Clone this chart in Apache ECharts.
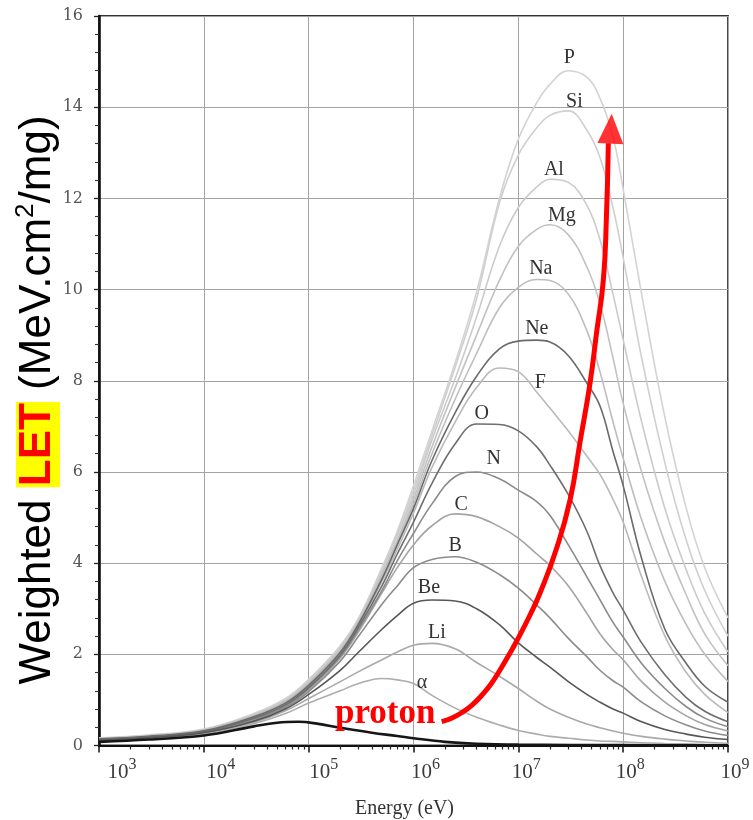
<!DOCTYPE html>
<html>
<head>
<meta charset="utf-8">
<script src="https://cdn.jsdelivr.net/npm/echarts@6/dist/echarts.min.js"></script>
<style>
  html, body { margin: 0; padding: 0; background: #ffffff; }
  #chart { width: 753px; height: 820px; }
</style>
</head>
<body>
<div id="chart"></div>
<script>
// Energy grid shared by the ion curves (eV)
const energyGrid = [1e3, 3e3, 1e4, 3e4, 6e4, 1e5, 2e5, 3e5, 5e5, 7e5, 1e6, 1.5e6, 2.5e6, 4e6, 6.6e6,
                    1e7, 1.5e7, 2e7, 3e7, 4.5e7, 6e7, 8e7, 1e8, 1.5e8, 2.5e8, 4e8, 6e8, 1e9];

// Weighted LET (MeV.cm2/mg) of each ion on energyGrid
const letAlpha = [0.10, 0.15, 0.25, 0.48, 0.70, 0.93, 1.20, 1.36, 1.47, 1.44, 1.36, 1.10, 0.82, 0.62, 0.45,
                  0.33, 0.25, 0.20, 0.16, 0.12, 0.10, 0.09, 0.08, 0.06, 0.045, 0.035, 0.025, 0.02];
const letLi    = [0.11, 0.16, 0.27, 0.51, 0.76, 1.03, 1.40, 1.62, 1.88, 2.05, 2.20, 2.24, 2.12, 1.82, 1.52,
                  1.25, 0.97, 0.80, 0.62, 0.47, 0.39, 0.32, 0.27, 0.20, 0.14, 0.10, 0.07, 0.05];
const letBe    = [0.11, 0.17, 0.28, 0.53, 0.80, 1.12, 1.65, 2.05, 2.55, 2.85, 3.12, 3.19, 3.17, 3.00, 2.65,
                  2.25, 1.93, 1.72, 1.40, 1.12, 0.95, 0.80, 0.71, 0.52, 0.35, 0.25, 0.18, 0.13];
const letB     = [0.12, 0.18, 0.29, 0.55, 0.83, 1.18, 1.85, 2.40, 3.10, 3.50, 3.90, 4.08, 4.14, 4.02, 3.75,
                  3.45, 3.08, 2.80, 2.35, 1.95, 1.65, 1.42, 1.28, 0.95, 0.65, 0.45, 0.32, 0.22];
const letC     = [0.12, 0.18, 0.30, 0.57, 0.85, 1.22, 1.92, 2.50, 3.35, 3.90, 4.40, 4.82, 5.08, 5.02, 4.80,
                  4.55, 4.20, 3.95, 3.50, 2.90, 2.45, 2.10, 1.88, 1.40, 0.95, 0.65, 0.46, 0.32];
const letN     = [0.13, 0.19, 0.30, 0.58, 0.87, 1.25, 1.95, 2.55, 3.40, 4.05, 4.65, 5.30, 5.90, 6.00, 5.85,
                  5.60, 5.35, 5.05, 4.40, 3.70, 3.20, 2.70, 2.38, 1.80, 1.25, 0.85, 0.60, 0.41];
const letO     = [0.13, 0.19, 0.31, 0.60, 0.89, 1.27, 1.98, 2.60, 3.50, 4.20, 4.90, 5.75, 6.62, 7.05, 7.04,
                  6.90, 6.55, 6.15, 5.50, 4.70, 3.95, 3.35, 2.97, 2.25, 1.55, 1.05, 0.75, 0.52];
const letF     = [0.14, 0.20, 0.32, 0.61, 0.91, 1.30, 2.01, 2.64, 3.60, 4.30, 5.10, 6.10, 7.10, 7.85, 8.28,
                  8.20, 7.75, 7.40, 6.90, 6.35, 5.95, 5.40, 4.90, 3.70, 2.40, 1.60, 1.12, 0.72];
const letNe    = [0.14, 0.20, 0.32, 0.63, 0.93, 1.32, 2.04, 2.67, 3.65, 4.40, 5.20, 6.25, 7.30, 8.10, 8.70,
                  8.87, 8.89, 8.85, 8.55, 7.95, 7.45, 6.45, 5.70, 4.10, 2.55, 1.80, 1.30, 0.95];
const letNa    = [0.15, 0.21, 0.33, 0.64, 0.95, 1.35, 2.07, 2.70, 3.70, 4.45, 5.30, 6.40, 7.60, 8.60, 9.60,
                  10.05, 10.22, 10.20, 9.90, 9.10, 8.20, 7.10, 6.30, 4.95, 3.60, 2.65, 2.00, 1.40];
const letMg    = [0.15, 0.21, 0.34, 0.66, 0.97, 1.37, 2.10, 2.72, 3.75, 4.50, 5.40, 6.55, 7.85, 9.00, 10.20,
                  10.95, 11.32, 11.42, 11.20, 10.50, 9.70, 8.50, 7.50, 6.00, 4.45, 3.30, 2.45, 1.75];
const letAl    = [0.16, 0.22, 0.34, 0.67, 0.99, 1.40, 2.13, 2.75, 3.80, 4.60, 5.50, 6.70, 8.05, 9.40, 10.95,
                  11.80, 12.25, 12.42, 12.35, 11.85, 11.10, 9.90, 8.90, 7.10, 5.20, 3.85, 2.90, 2.05];
const letSi    = [0.16, 0.22, 0.35, 0.69, 1.01, 1.42, 2.16, 2.78, 3.85, 4.65, 5.60, 6.80, 8.30, 9.80, 11.90,
                  12.95, 13.55, 13.82, 13.92, 13.50, 12.90, 11.80, 10.70, 8.50, 6.20, 4.50, 3.40, 2.40];
const letP     = [0.17, 0.23, 0.36, 0.70, 1.03, 1.45, 2.19, 2.80, 3.90, 4.70, 5.70, 6.90, 8.40, 9.95, 12.00,
                  13.30, 14.10, 14.50, 14.80, 14.66, 14.20, 13.35, 12.20, 9.90, 7.20, 5.20, 3.90, 2.80];

// Proton curve
const protonEnergy = [1e3, 3e3, 1e4, 3e4, 5e4, 8e4, 1.2e5, 2e5, 4e5, 7e5, 1e6, 2e6, 4e6, 1e7, 1e8, 1e9];
const protonLET    = [0.08, 0.13, 0.22, 0.42, 0.50, 0.52, 0.48, 0.39, 0.28, 0.21, 0.16, 0.08, 0.04, 0.02, 0.008, 0.004];

// Ion names, drawn from lightest grey (back) to darkest (front)
const ionNames = ['P', 'Si', 'Al', 'Mg', 'Na', 'F', 'C', 'Li', 'α', 'N', 'B', 'O', 'Ne', 'Be'];
const ionLET = {
  'α': letAlpha, 'Li': letLi, 'Be': letBe, 'B': letB, 'C': letC, 'N': letN, 'O': letO,
  'F': letF, 'Ne': letNe, 'Na': letNa, 'Mg': letMg, 'Al': letAl, 'Si': letSi, 'P': letP
};

// Highlight arrow drawn over the curves
const arrowEnergy = [1.858e6, 2.330e6, 2.903e6, 3.616e6, 4.504e6, 5.488e6, 6.688e6, 8.063e6, 9.652e6,
                     1.293e7, 1.610e7, 2.288e7, 3.112e7, 3.877e7, 4.830e7, 5.569e7, 6.467e7, 6.908e7, 7.218e7];
const arrowLET    = [0.522, 0.603, 0.724, 0.888, 1.107, 1.348, 1.655, 1.973, 2.291,
                     2.862, 3.344, 4.286, 5.382, 6.654, 7.948, 9.044, 10.206, 11.522, 13.21];
const arrowHead   = [[7.66e7, 13.53]];

// Decade exponents used for the energy tick labels
const xTickExponents = [3, 4, 5, 6, 7, 8, 9];

// Styling
const ionColor = {
  'α': '#adadad', 'Li': '#a9a9a9', 'Be': '#575757', 'B': '#8c8c8c', 'C': '#a4a4a4', 'N': '#8a8a8a',
  'O': '#6e6e6e', 'F': '#bababa', 'Ne': '#6a6a6a', 'Na': '#bdbdbd', 'Mg': '#c2c2c2', 'Al': '#cbcbcb',
  'Si': '#cfcfcf', 'P': '#d3d3d3'
};
const ionLabelOffset = {
  'P': [1, -13], 'Si': [6, -9], 'Al': [4, -9], 'Mg': [12, -9], 'Na': [4, -11], 'Ne': [0, -11],
  'F': [41, 15], 'O': [5, -10], 'N': [17, -13], 'C': [6, -9], 'B': [0, -11], 'Be': [-3, -12],
  'Li': [5, -11], 'α': [40, 4]
};
// Horizontal nudge (px) of each decade label relative to its tick
const xTickLabelShift = [10, 4, 2, -1, -5, -6, -6];

const serif = '"Liberation Serif", "DejaVu Serif", serif';

// Minor ticks of the logarithmic energy axis (2..9 within each decade)
const minorEnergyTicks = [];
for (let d = 3; d < 9; d++) {
  for (let m = 2; m <= 9; m++) minorEnergyTicks.push(m * Math.pow(10, d));
}

// Rich styles for the decade labels, with spacer tokens used for nudging
const xLabelRich = {
  b: { fontFamily: serif, fontSize: 21, color: '#3a3a3a', lineHeight: 26, verticalAlign: 'bottom' },
  s: { fontFamily: serif, fontSize: 16, color: '#3a3a3a', lineHeight: 26, verticalAlign: 'top' }
};
xTickLabelShift.forEach(function (s, i) {
  xLabelRich['g' + i] = { width: Math.abs(s) * 2, fontSize: 4, lineHeight: 26 };
});

const series = [];
ionNames.forEach(function (name) {
  const lets = ionLET[name];
  const points = energyGrid.map(function (e, i) { return [e, lets[i]]; });
  let peak = 0;
  lets.forEach(function (v, i) { if (v > lets[peak]) peak = i; });
  series.push({
    name: name,
    type: 'line',
    data: points,
    smooth: 0.4,
    showSymbol: false,
    symbol: 'none',
    lineStyle: { color: ionColor[name], width: 1.6 },
    z: 2,
    markPoint: {
      symbol: 'circle',
      symbolSize: 0,
      silent: true,
      data: [{
        coord: points[peak],
        label: {
          show: true,
          formatter: name,
          position: ionLabelOffset[name],
          align: 'center',
          verticalAlign: 'middle',
          fontFamily: serif,
          fontSize: 20,
          color: '#333333'
        }
      }]
    }
  });
});

series.push({
  name: 'proton',
  type: 'line',
  data: protonEnergy.map(function (e, i) { return [e, protonLET[i]]; }),
  smooth: 0.4,
  showSymbol: false,
  symbol: 'none',
  lineStyle: { color: '#161616', width: 2.6 },
  z: 3
});

series.push({
  name: 'arrow',
  type: 'line',
  data: arrowEnergy.map(function (e, i) { return [e, arrowLET[i]]; }),
  smooth: 0.5,
  showSymbol: false,
  symbol: 'none',
  lineStyle: { color: '#ff0000', width: 5 },
  z: 5
});

series.push({
  name: 'arrowHead',
  type: 'scatter',
  data: arrowHead,
  symbol: 'triangle',
  symbolSize: [26, 30],
  symbolRotate: -2.5,
  itemStyle: { color: '#ff0000' },
  silent: true,
  z: 6
});

const chart = echarts.init(document.getElementById('chart'), null, { renderer: 'canvas' });
chart.setOption({
  animation: false,
  backgroundColor: '#ffffff',
  grid: {
    left: 99, top: 16, width: 629, height: 729.5,
    containLabel: false,
    outerBoundsMode: 'none',
    show: true, borderColor: '#333333', borderWidth: 1.8, backgroundColor: 'transparent'
  },
  xAxis: [{
    type: 'log',
    logBase: 10,
    min: 1e3,
    max: 1e9,
    axisLine: { show: true, onZero: false, lineStyle: { color: '#111111', width: 2.2 } },
    axisTick: { show: true, inside: false, length: 7, lineStyle: { color: '#111111', width: 1.5 } },
    axisLabel: {
      showMinLabel: true,
      showMaxLabel: true,
      margin: 11,
      padding: [0, 0, 0, 26],
      formatter: function (v) {
        const i = xTickExponents.indexOf(Math.round(Math.log10(v)));
        const label = '{b|10}{s|' + xTickExponents[i] + '}';
        const gap = '{g' + i + '| }';
        return xTickLabelShift[i] >= 0 ? gap + label : label + gap;
      },
      rich: xLabelRich
    },
    splitLine: { show: true, lineStyle: { color: '#a3a3a3', width: 1 } },
    name: 'Energy (eV)',
    nameLocation: 'middle',
    nameGap: 53,
    nameTextStyle: { fontFamily: serif, fontSize: 20, color: '#333333', padding: [0, 18, 0, 0] }
  }, {
    type: 'log',
    logBase: 10,
    min: 1e3,
    max: 1e9,
    gridIndex: 0,
    position: 'bottom',
    axisLine: { show: false },
    axisLabel: { show: false },
    splitLine: { show: false },
    axisTick: { show: true, inside: false, length: 4, customValues: minorEnergyTicks,
                lineStyle: { color: '#222222', width: 1.2 } }
  }],
  yAxis: {
    type: 'value',
    min: 0,
    max: 16,
    interval: 2,
    axisLine: { show: true, lineStyle: { color: '#111111', width: 2.6 } },
    axisTick: { show: true, inside: false, length: 5, lineStyle: { color: '#222222', width: 1.3 } },
    minorTick: { show: true, splitNumber: 5, length: 4, lineStyle: { color: '#333333', width: 1.1 } },
    minorSplitLine: { show: false },
    axisLabel: { fontFamily: '"DejaVu Serif", serif', fontSize: 16, color: '#555555', margin: 16 },
    splitLine: { show: true, lineStyle: { color: '#a3a3a3', width: 1 } }
  },
  graphic: [{
    type: 'text',
    x: 38,
    y: 400,
    rotation: Math.PI / 2,
    silent: true,
    style: {
      text: '{a|Weighted }{l|LET}{a| (MeV.cm}{s|2}{a|/mg)}',
      align: 'center',
      verticalAlign: 'middle',
      rich: {
        a: { fontFamily: '"Liberation Sans", Arial, sans-serif', fontSize: 44, fill: '#000000', lineHeight: 50 },
        l: { fontFamily: '"Liberation Sans", Arial, sans-serif', fontSize: 44, fontWeight: 'bold',
             fill: '#ff0000', backgroundColor: '#ffff00', lineHeight: 50, padding: [0, 1, 0, 1] },
        s: { fontFamily: '"Liberation Sans", Arial, sans-serif', fontSize: 26, fill: '#000000',
             lineHeight: 50, verticalAlign: 'top' }
      }
    },
    z: 10
  }, {
    type: 'text',
    x: 335,
    y: 731,
    silent: true,
    style: {
      text: 'proton',
      fontFamily: serif,
      fontWeight: 'bold',
      fontSize: 35,
      fill: '#ff0000',
      align: 'left',
      verticalAlign: 'bottom'
    },
    z: 10
  }],
  series: series
});
</script>
</body>
</html>
